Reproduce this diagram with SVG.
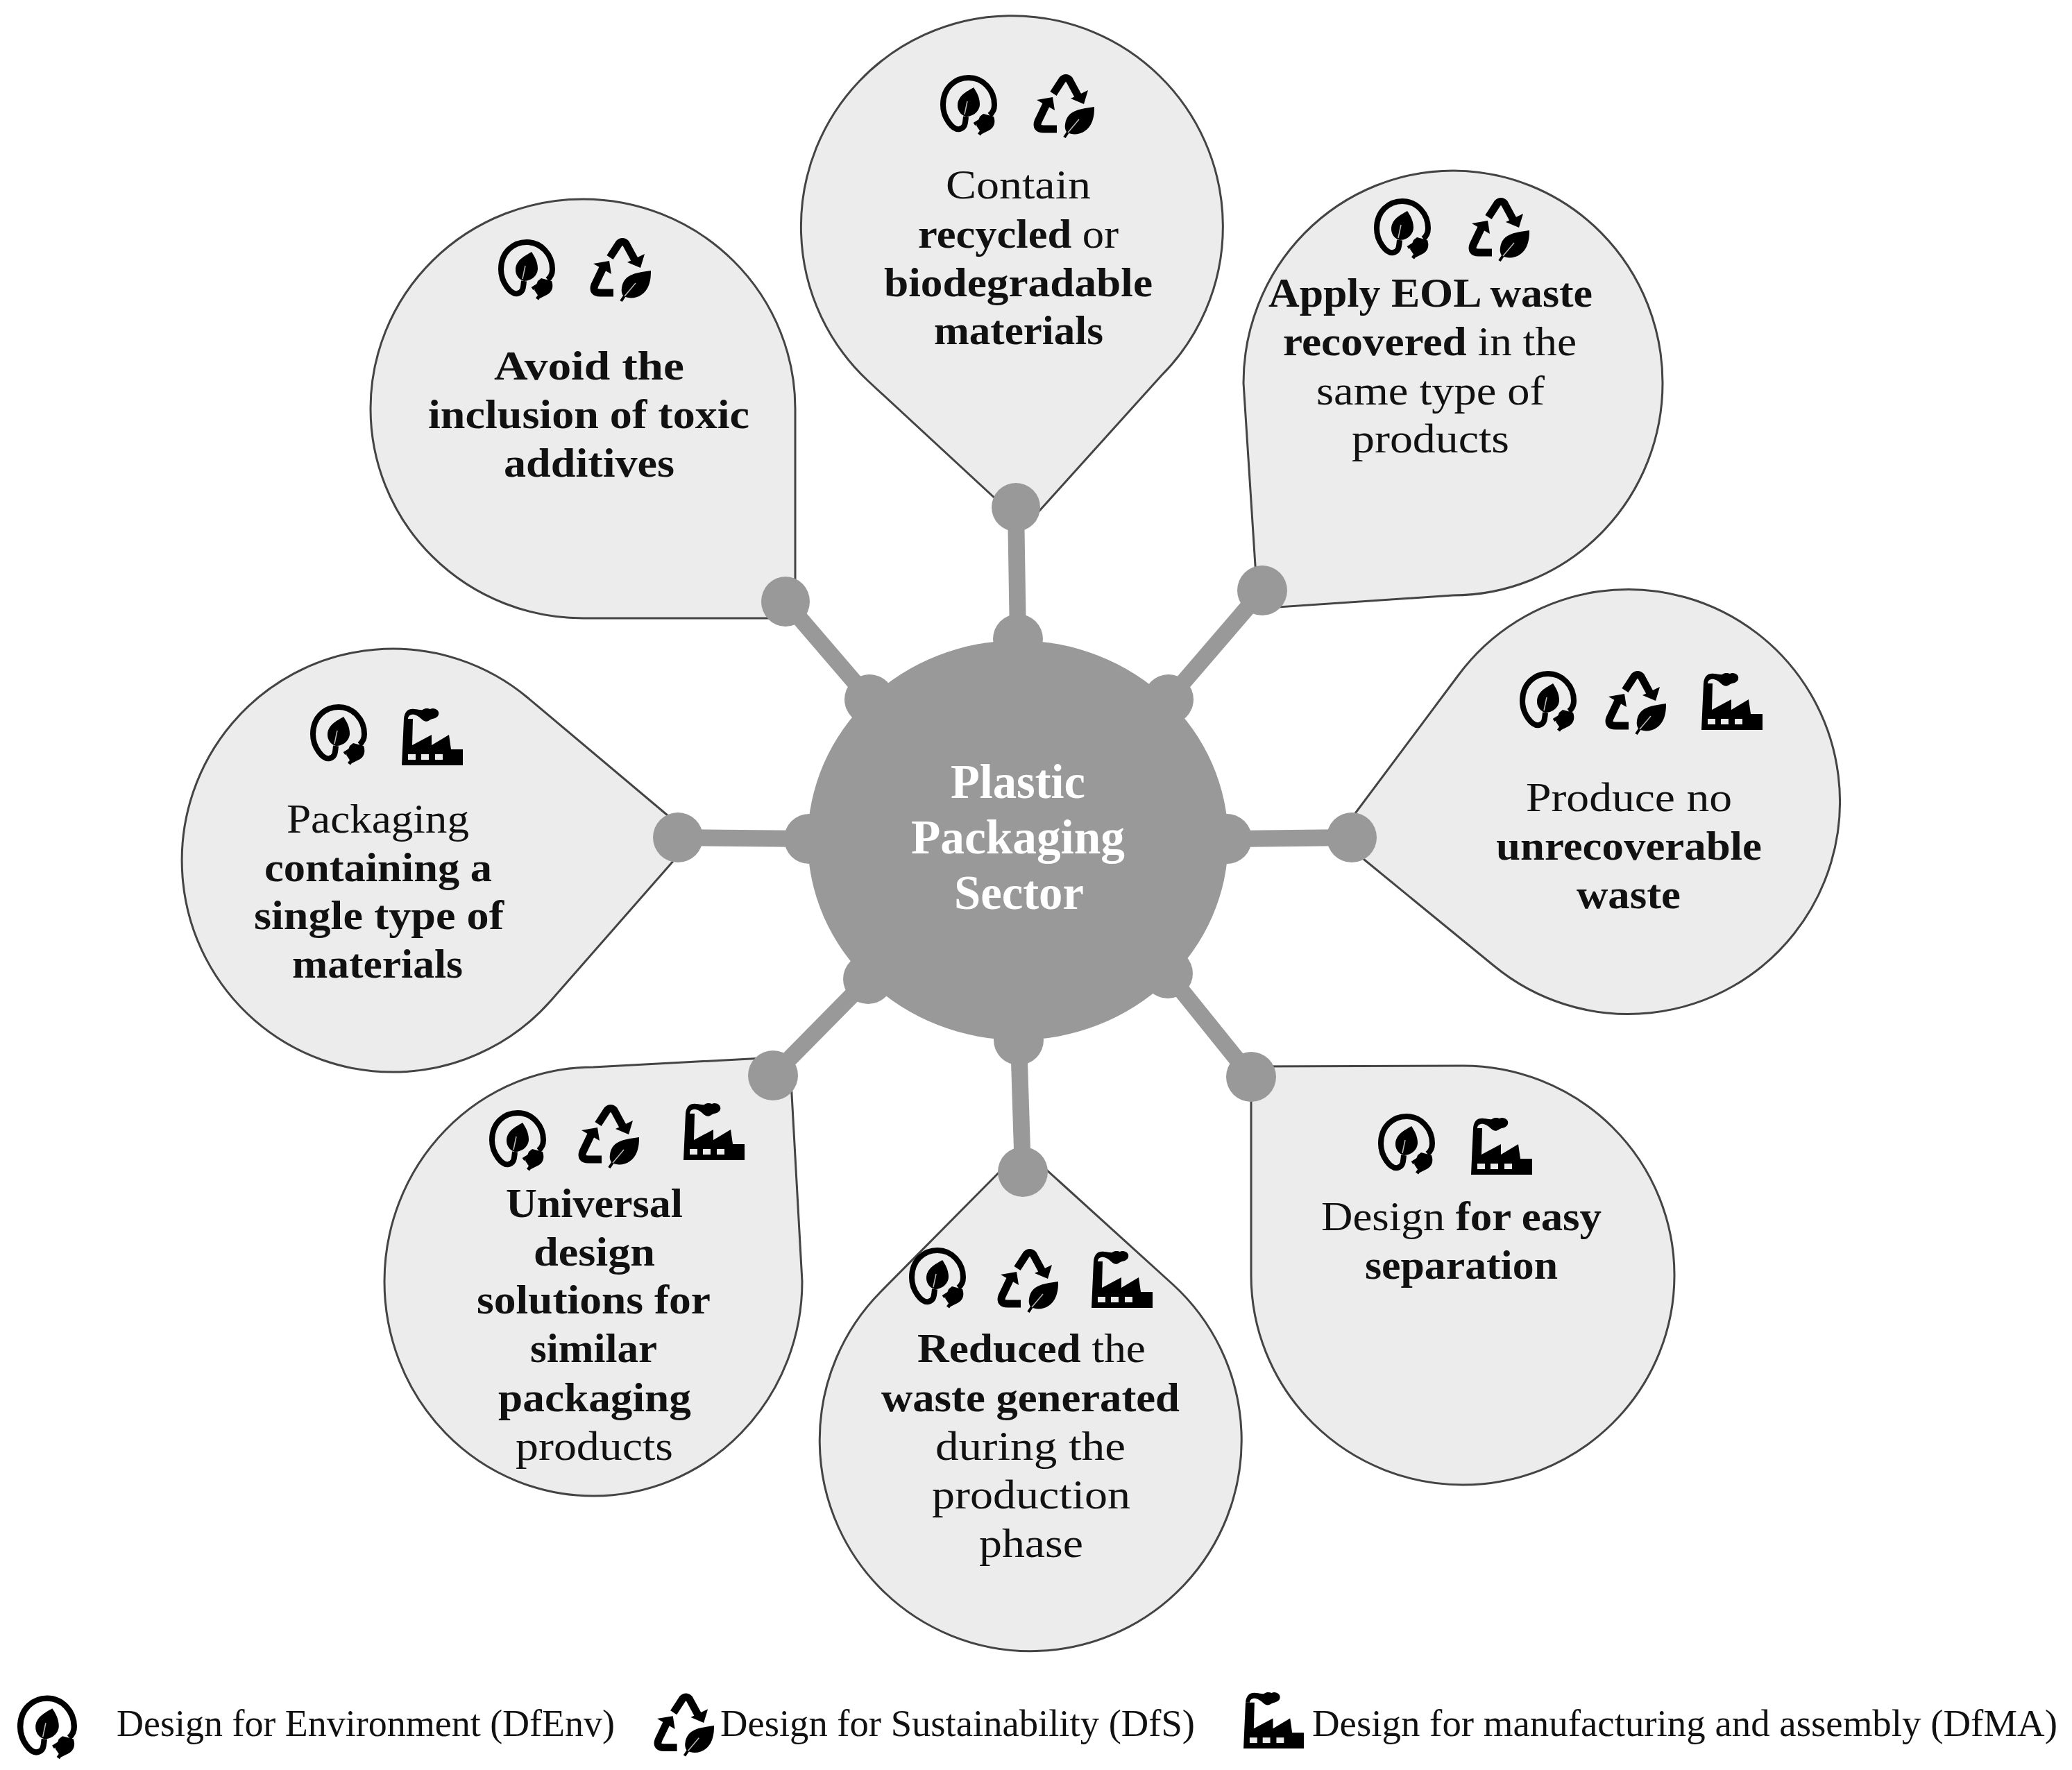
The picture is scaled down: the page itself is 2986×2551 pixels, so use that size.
<svg xmlns="http://www.w3.org/2000/svg" xmlns:xlink="http://www.w3.org/1999/xlink" width="2986" height="2551" viewBox="0 0 2986 2551">
<style>
.b{fill:#ececec;stroke:#444;stroke-width:3}
.t{font-family:"Liberation Serif","DejaVu Serif",serif;font-size:60px;fill:#111}
.c{font-family:"Liberation Serif","DejaVu Serif",serif;font-size:70px;fill:#fff;font-weight:bold}
.l{font-family:"Liberation Serif","DejaVu Serif",serif;font-size:54px;fill:#111}
.w{font-weight:bold}
.con line{stroke:#999;stroke-width:24}
.con ellipse{fill:#999}
</style>
<defs>
<symbol id="env" viewBox="0 0 82 85" overflow="visible">
<path d="M37,60C36,70 36,76 28,78C18,80 4,62 4,43C4,18 22,4 41,4C62,4 78,22 78,43C78,50 75,55 71,58" fill="none" stroke="#000" stroke-width="8"/>
<path d="M48,18C38,24 25,30 25,44C25,52 30,58 37,60C48,60 57,52 57,42C57,32 52,24 48,18Z" fill="#000"/>
<path d="M39,38L35,57" stroke="#bbb" stroke-width="1.5"/>
<path d="M62,56L77,60C80,68 78,76 70,80L60,85L52,73L57,60Z" fill="#000"/>
<path d="M57,66L49,71M62,78L56,86" stroke="#000" stroke-width="5"/>
</symbol>
<symbol id="rec" viewBox="0 0 88 92" overflow="visible">
<path d="M28,28L41,8Q46,3 51,8L64,32" fill="none" stroke="#000" stroke-width="11"/>
<path d="M53,35L78,23L72,43Z" fill="#000"/>
<path d="M33,79L14,79Q2,79 6,68L18,43" fill="none" stroke="#000" stroke-width="11"/>
<path d="M4,37L27,33L30,52Z" fill="#000"/>
<path d="M87,47C70,50 48,50 45,72C44,78 46,82 48,84C60,90 78,85 84,68C87,60 87,52 87,47Z" fill="#000"/>
<path d="M50,82L44,91" stroke="#000" stroke-width="4"/>
<path d="M65,65L49,84" stroke="#bbb" stroke-width="1.5"/>
</symbol>
<symbol id="fac" viewBox="0 0 88 82" overflow="visible">
<path d="M0,82L3,15L16,15L15,53L43,38L43,53L68,38L71,59L88,59L88,82Z" fill="#000"/>
<path d="M3,15C4,4 10,0 18,1C24,1 27,3 30,2C34,-1 38,0 41,1C46,-2 55,2 53,9C51,15 44,14 40,17C36,20 32,19 28,15C24,11 18,8 14,9C10,10 9,13 9,15Z" fill="#000"/>
<rect x="9" y="66" width="11" height="8" fill="#ececec"/>
<rect x="28" y="66" width="11" height="8" fill="#ececec"/>
<rect x="48" y="66" width="11" height="8" fill="#ececec"/>
</symbol>
</defs>
<rect width="2986" height="2551" fill="#fff"/>

<g id="node-contain">
<path class="b" d="M1490,745L1673,542A304 304 0 1 0 1251,549L1464,746Z"/>
<use href="#env" x="1355" y="108" width="82" height="85"/><use href="#rec" x="1490" y="107" width="88" height="92"/>
<text class="t" x="1363" y="286" textLength="209" lengthAdjust="spacingAndGlyphs">Contain</text>
<text class="t" x="1323" y="357" textLength="289" lengthAdjust="spacingAndGlyphs"><tspan class="w">recycled</tspan> or</text>
<text class="t w" x="1274" y="427" textLength="387" lengthAdjust="spacingAndGlyphs">biodegradable</text>
<text class="t w" x="1346" y="496" textLength="244" lengthAdjust="spacingAndGlyphs">materials</text>
</g>
<g id="node-eol">
<path class="b" d="M1813,877L1792,552A302 306 0 1 1 2094,858Z"/>
<use href="#env" x="1980" y="286" width="82" height="85"/><use href="#rec" x="2117" y="285" width="88" height="92"/>
<text class="t w" x="1828" y="442" textLength="467" lengthAdjust="spacingAndGlyphs">Apply EOL waste</text>
<text class="t" x="1849" y="512" textLength="423" lengthAdjust="spacingAndGlyphs"><tspan class="w">recovered</tspan> in the</text>
<text class="t" x="1897" y="583" textLength="329" lengthAdjust="spacingAndGlyphs">same type of</text>
<text class="t" x="1948" y="652" textLength="227" lengthAdjust="spacingAndGlyphs">products</text>
</g>
<g id="node-waste">
<path class="b" d="M1927,1207L2153,1392A305 306 0 1 0 2101,974Z"/>
<use href="#env" x="2190" y="967" width="82" height="85"/><use href="#rec" x="2314" y="967" width="88" height="92"/><use href="#fac" x="2452" y="970" width="88" height="82"/>
<text class="t" x="2199" y="1169" textLength="297" lengthAdjust="spacingAndGlyphs">Produce no</text>
<text class="t w" x="2156" y="1239" textLength="383" lengthAdjust="spacingAndGlyphs">unrecoverable</text>
<text class="t w" x="2272" y="1309" textLength="150" lengthAdjust="spacingAndGlyphs">waste</text>
</g>
<g id="node-separation">
<path class="b" d="M1803,1537L2108,1536A305 302 0 1 1 1803,1838Z"/>
<use href="#env" x="1986" y="1605" width="82" height="85"/><use href="#fac" x="2120" y="1611" width="88" height="82"/>
<text class="t" x="1904" y="1773" textLength="404" lengthAdjust="spacingAndGlyphs">Design <tspan class="w">for easy</tspan></text>
<text class="t w" x="1967" y="1843" textLength="278" lengthAdjust="spacingAndGlyphs">separation</text>
</g>
<g id="node-reduced">
<path class="b" d="M1474,1655L1690,1851A304 304 0 1 1 1269,1862Z"/>
<use href="#env" x="1310" y="1798" width="82" height="85"/><use href="#rec" x="1438" y="1800" width="88" height="92"/><use href="#fac" x="1573" y="1803" width="88" height="82"/>
<text class="t" x="1322" y="1963" textLength="329" lengthAdjust="spacingAndGlyphs"><tspan class="w">Reduced</tspan> the</text>
<text class="t w" x="1270" y="2034" textLength="430" lengthAdjust="spacingAndGlyphs">waste generated</text>
<text class="t" x="1348" y="2104" textLength="274" lengthAdjust="spacingAndGlyphs">during the</text>
<text class="t" x="1343" y="2174" textLength="286" lengthAdjust="spacingAndGlyphs">production</text>
<text class="t" x="1411" y="2244" textLength="150" lengthAdjust="spacingAndGlyphs">phase</text>
</g>
<g id="node-universal">
<path class="b" d="M1138,1523L855,1538A301 309 0 1 0 1156,1847Z"/>
<use href="#env" x="705" y="1600" width="82" height="85"/><use href="#rec" x="834" y="1592" width="88" height="92"/><use href="#fac" x="985" y="1590" width="88" height="82"/>
<text class="t w" x="729" y="1754" textLength="255" lengthAdjust="spacingAndGlyphs">Universal</text>
<text class="t w" x="769" y="1824" textLength="175" lengthAdjust="spacingAndGlyphs">design</text>
<text class="t w" x="687" y="1893" textLength="337" lengthAdjust="spacingAndGlyphs">solutions for</text>
<text class="t w" x="764" y="1963" textLength="183" lengthAdjust="spacingAndGlyphs">similar</text>
<text class="t w" x="718" y="2034" textLength="278" lengthAdjust="spacingAndGlyphs">packaging</text>
<text class="t" x="743" y="2104" textLength="227" lengthAdjust="spacingAndGlyphs">products</text>
</g>
<g id="node-single">
<path class="b" d="M1000,1207L794,1442A304 305 0 1 1 761,1006Z"/>
<use href="#env" x="447" y="1015" width="82" height="85"/><use href="#fac" x="579" y="1021" width="88" height="82"/>
<text class="t" x="413" y="1200" textLength="263" lengthAdjust="spacingAndGlyphs">Packaging</text>
<text class="t w" x="381" y="1270" textLength="328" lengthAdjust="spacingAndGlyphs">containing a</text>
<text class="t w" x="366" y="1339" textLength="360" lengthAdjust="spacingAndGlyphs">single type of</text>
<text class="t w" x="421" y="1409" textLength="246" lengthAdjust="spacingAndGlyphs">materials</text>
</g>
<g id="node-avoid">
<path class="b" d="M1146,891L1146,590A306 302 0 1 0 840,891Z"/>
<use href="#env" x="718" y="345" width="82" height="85"/><use href="#rec" x="851" y="343" width="88" height="92"/>
<text class="t w" x="712" y="547" textLength="274" lengthAdjust="spacingAndGlyphs">Avoid the</text>
<text class="t w" x="617" y="617" textLength="463" lengthAdjust="spacingAndGlyphs">inclusion of toxic</text>
<text class="t w" x="726" y="687" textLength="246" lengthAdjust="spacingAndGlyphs">additives</text>
</g>

<g id="connectors" class="con">
<line x1="1467" y1="921" x2="1464" y2="731"/>
<line x1="1684" y1="1008" x2="1819" y2="851"/>
<line x1="1768" y1="1209" x2="1948" y2="1207"/>
<line x1="1683" y1="1403" x2="1803" y2="1552"/>
<line x1="1468" y1="1499" x2="1474" y2="1689"/>
<line x1="1251" y1="1411" x2="1114" y2="1550"/>
<line x1="1166" y1="1209" x2="977" y2="1207"/>
<line x1="1253" y1="1008" x2="1132" y2="867"/>
<ellipse cx="1464" cy="731" rx="35" ry="35"/><ellipse cx="1819" cy="851" rx="36" ry="36"/><ellipse cx="1948" cy="1207" rx="36" ry="36"/><ellipse cx="1803" cy="1552" rx="36" ry="36"/><ellipse cx="1474" cy="1689" rx="36" ry="36"/><ellipse cx="1114" cy="1550" rx="36" ry="36"/><ellipse cx="977" cy="1207" rx="36" ry="36"/><ellipse cx="1132" cy="867" rx="35" ry="36"/>
<ellipse cx="1467" cy="921" rx="36" ry="36"/><ellipse cx="1684" cy="1008" rx="36" ry="36"/><ellipse cx="1768" cy="1209" rx="36" ry="36"/><ellipse cx="1683" cy="1403" rx="36" ry="36"/><ellipse cx="1468" cy="1499" rx="36" ry="36"/><ellipse cx="1251" cy="1411" rx="36" ry="36"/><ellipse cx="1166" cy="1209" rx="36" ry="36"/><ellipse cx="1253" cy="1008" rx="36" ry="36"/>
</g>

<g id="node-center">
<ellipse cx="1467" cy="1211" rx="303" ry="288" fill="#999"/>
<text class="c" x="1370" y="1150" textLength="194" lengthAdjust="spacingAndGlyphs">Plastic</text>
<text class="c" x="1313" y="1230" textLength="308" lengthAdjust="spacingAndGlyphs">Packaging</text>
<text class="c" x="1375" y="1310" textLength="187" lengthAdjust="spacingAndGlyphs">Sector</text>
</g>

<g id="legend">
<use href="#env" x="25" y="2441" width="86" height="94" preserveAspectRatio="none"/>
<text class="l" x="168" y="2502" textLength="718" lengthAdjust="spacingAndGlyphs">Design for Environment (DfEnv)</text>
<use href="#rec" x="943" y="2439" width="87" height="94" preserveAspectRatio="none"/>
<text class="l" x="1038" y="2502" textLength="684" lengthAdjust="spacingAndGlyphs">Design for Sustainability (DfS)</text>
<use href="#fac" x="1790" y="2439" width="91" height="81" preserveAspectRatio="none"/>
<text class="l" x="1891" y="2502" textLength="1074" lengthAdjust="spacingAndGlyphs">Design for manufacturing and assembly (DfMA)</text>
</g>
</svg>
